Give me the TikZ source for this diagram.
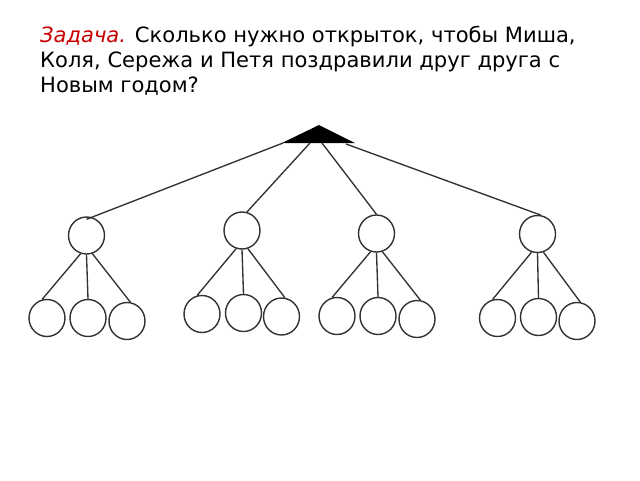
\documentclass[tikz,border=0pt]{standalone}
\usepackage{fontspec}
\setmainfont{DejaVu Sans}
\usepackage{tikz}
\usetikzlibrary{shapes.geometric}
\definecolor{taskred}{RGB}{200,0,0}
\definecolor{linegray}{RGB}{50,50,50}

\begin{document}
\begin{tikzpicture}[x=1pt, y=-1pt,
    person/.style={draw=linegray, line width=1.4pt, ellipse, inner sep=0pt,
                   minimum width=36pt, minimum height=37pt},
    edge/.style={draw=linegray, line width=1.35pt}]
    \useasboundingbox (0,0) rectangle (640,480);

    % Problem text (base anchor sits on the last line)
    \node[anchor=base west, inner sep=0pt, align=left,
          font=\fontsize{21.05}{25}\selectfont] (task) at (40,92)
        {{\itshape\color{taskred}Задача.} Сколько нужно открыток, чтобы Миша,\\
         Коля, Сережа и Петя поздравили друг друга с\\
         Новым годом?};

    % Root triangle
    \coordinate (T)  at (319,125);
    \coordinate (TL) at (282,143);
    \coordinate (TR) at (355,143);
    \fill (T) -- (TL) -- (TR) -- cycle;

    % Start points of the edges on the triangle base
    \coordinate (T1) at (283,143);
    \coordinate (T2) at (310,143);
    \coordinate (T3) at (322,143);
    \coordinate (T4) at (346,144);

    % First level
    \node[person] (A) at (86.5,235.5) {};
    \node[person] (B) at (242,230.5) {};
    \node[person] (C) at (376.5,233.5) {};
    \node[person] (D) at (537.5,234) {};

    % Second level
    \node[person] (A1) at (47,318) {};
    \node[person] (A2) at (88,318) {};
    \node[person] (A3) at (127,321) {};
    \node[person] (B1) at (202,314) {};
    \node[person] (B2) at (243.5,313) {};
    \node[person] (B3) at (281.5,316.5) {};
    \node[person] (C1) at (337,316) {};
    \node[person] (C2) at (378,316) {};
    \node[person] (C3) at (417,319) {};
    \node[person] (D1) at (497.5,318) {};
    \node[person] (D2) at (538.5,317) {};
    \node[person] (D3) at (577,321) {};

    % Edges from the triangle
    \draw[edge] (T1) -- ([yshift=-3pt]A.north);
    \draw[edge] (T2) -- (B.75);
    \draw[edge] (T3) -- (C.north);
    \draw[edge] (T4) -- (D.80);

    % Edges to the second level
    \draw[edge] (A.252) -- (A1.105);
    \draw[edge] (A.south) -- (A2.north);
    \draw[edge] (A.288) -- (A3.80);
    \draw[edge] (B.252) -- (B1.105);
    \draw[edge] (B.south) -- (B2.north);
    \draw[edge] (B.288) -- (B3.80);
    \draw[edge] (C.252) -- (C1.105);
    \draw[edge] (C.south) -- (C2.north);
    \draw[edge] (C.288) -- (C3.80);
    \draw[edge] (D.252) -- (D1.105);
    \draw[edge] (D.south) -- (D2.north);
    \draw[edge] (D.288) -- (D3.80);
\end{tikzpicture}
\end{document}
